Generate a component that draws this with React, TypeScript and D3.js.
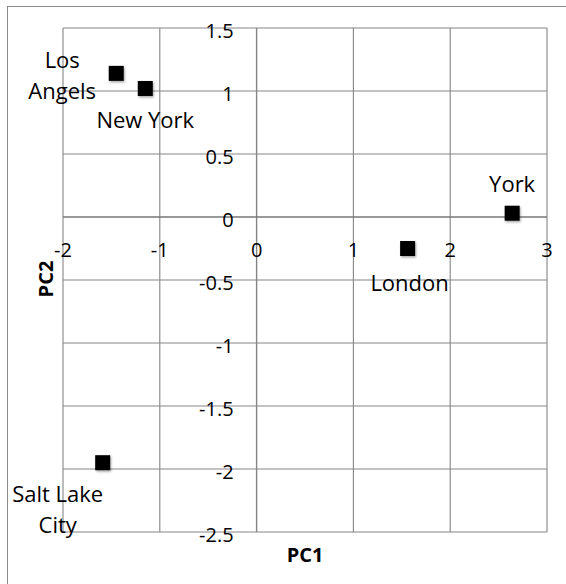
import React from "react";
import * as d3 from "d3";

const cities = ["Los Angels", "New York", "York", "London", "Salt Lake City"];
const pc1 = [-1.45, -1.15, 2.64, 1.56, -1.59];
const pc2 = [1.14, 1.02, 0.03, -0.25, -1.95];
const labelLines = [["Los", "Angels"], ["New York"], ["York"], ["London"], ["Salt Lake", "City"]];
const xTicks = [-2, -1, 0, 1, 2, 3];
const yTicks = [1.5, 1, 0.5, 0, -0.5, -1, -1.5, -2, -2.5];

// label placement offsets (pixels, relative to marker)
const labelOffsets: [number, number][] = [[-54, -5], [0, 40], [0, -21], [2, 42], [-45, 39]];

export default function App() {
  const W = 566, H = 584;
  const left = 63, right = 547, top = 28, bottom = 532;
  const x = d3.scaleLinear().domain([-2, 3]).range([left, right]);
  const y = d3.scaleLinear().domain([-2.5, 1.5]).range([bottom, top]);
  const font = "'Open Sans', sans-serif";
  const grid = "#858585";

  return (
    <div style={{ position: "absolute", left: 0, top: 0 }}>
      <svg width={W} height={H} style={{ display: "block", background: "#fff" }}>
        <defs>
          <filter id="sh" x="-50%" y="-50%" width="200%" height="200%">
            <feDropShadow dx="1" dy="1.5" stdDeviation="1" floodColor="#000" floodOpacity="0.35" />
          </filter>
        </defs>
        <rect x={7.5} y={6.5} width={700} height={700} fill="#fff" stroke="#8c8c8c" strokeWidth={1} />
        {/* gridlines */}
        {xTicks.map((t) => (
          <line key={"gx" + t} x1={x(t)} x2={x(t)} y1={top} y2={bottom} stroke={grid} strokeWidth={t === 0 ? 1.4 : 1.1} />
        ))}
        {yTicks.map((t) => (
          <line key={"gy" + t} x1={left} x2={right} y1={y(t)} y2={y(t)} stroke={t === 0 ? "#777" : grid} strokeWidth={t === 0 ? 1.6 : 1.1} />
        ))}
        {/* y tick labels */}
        {yTicks.map((t) => (
          <text key={"ly" + t} x={x(0) - 23} y={y(t) + 10} textAnchor="end" fontFamily={font} fontSize={20} fill="#000">
            {String(t)}
          </text>
        ))}
        {/* x tick labels */}
        {xTicks.map((t) => (
          <text key={"lx" + t} x={x(t)} y={y(0) + 40} textAnchor="middle" fontFamily={font} fontSize={20} fill="#000">
            {String(t)}
          </text>
        ))}
        {/* markers */}
        {pc1.map((v, i) => (
          <rect key={"m" + i} x={x(v) - 7.5} y={y(pc2[i]) - 7.5} width={15} height={15} fill="#000" filter="url(#sh)" />
        ))}
        {/* data labels */}
        {cities.map((c, i) => (
          <text key={"dl" + c} fontFamily={font} fontSize={22} textAnchor="middle" fill="#000">
            {labelLines[i].map((ln, j) => (
              <tspan key={j} x={x(pc1[i]) + labelOffsets[i][0]} y={y(pc2[i]) + labelOffsets[i][1] + j * 31}>
                {ln}
              </tspan>
            ))}
          </text>
        ))}
        {/* axis titles */}
        <text x={305} y={562} textAnchor="middle" fontFamily={font} fontWeight="bold" fontSize={20} fill="#000">
          PC1
        </text>
        <text transform="translate(53,279) rotate(-90)" textAnchor="middle" fontFamily={font} fontWeight="bold" fontSize={20} fill="#000">
          PC2
        </text>
      </svg>
    </div>
  );
}
